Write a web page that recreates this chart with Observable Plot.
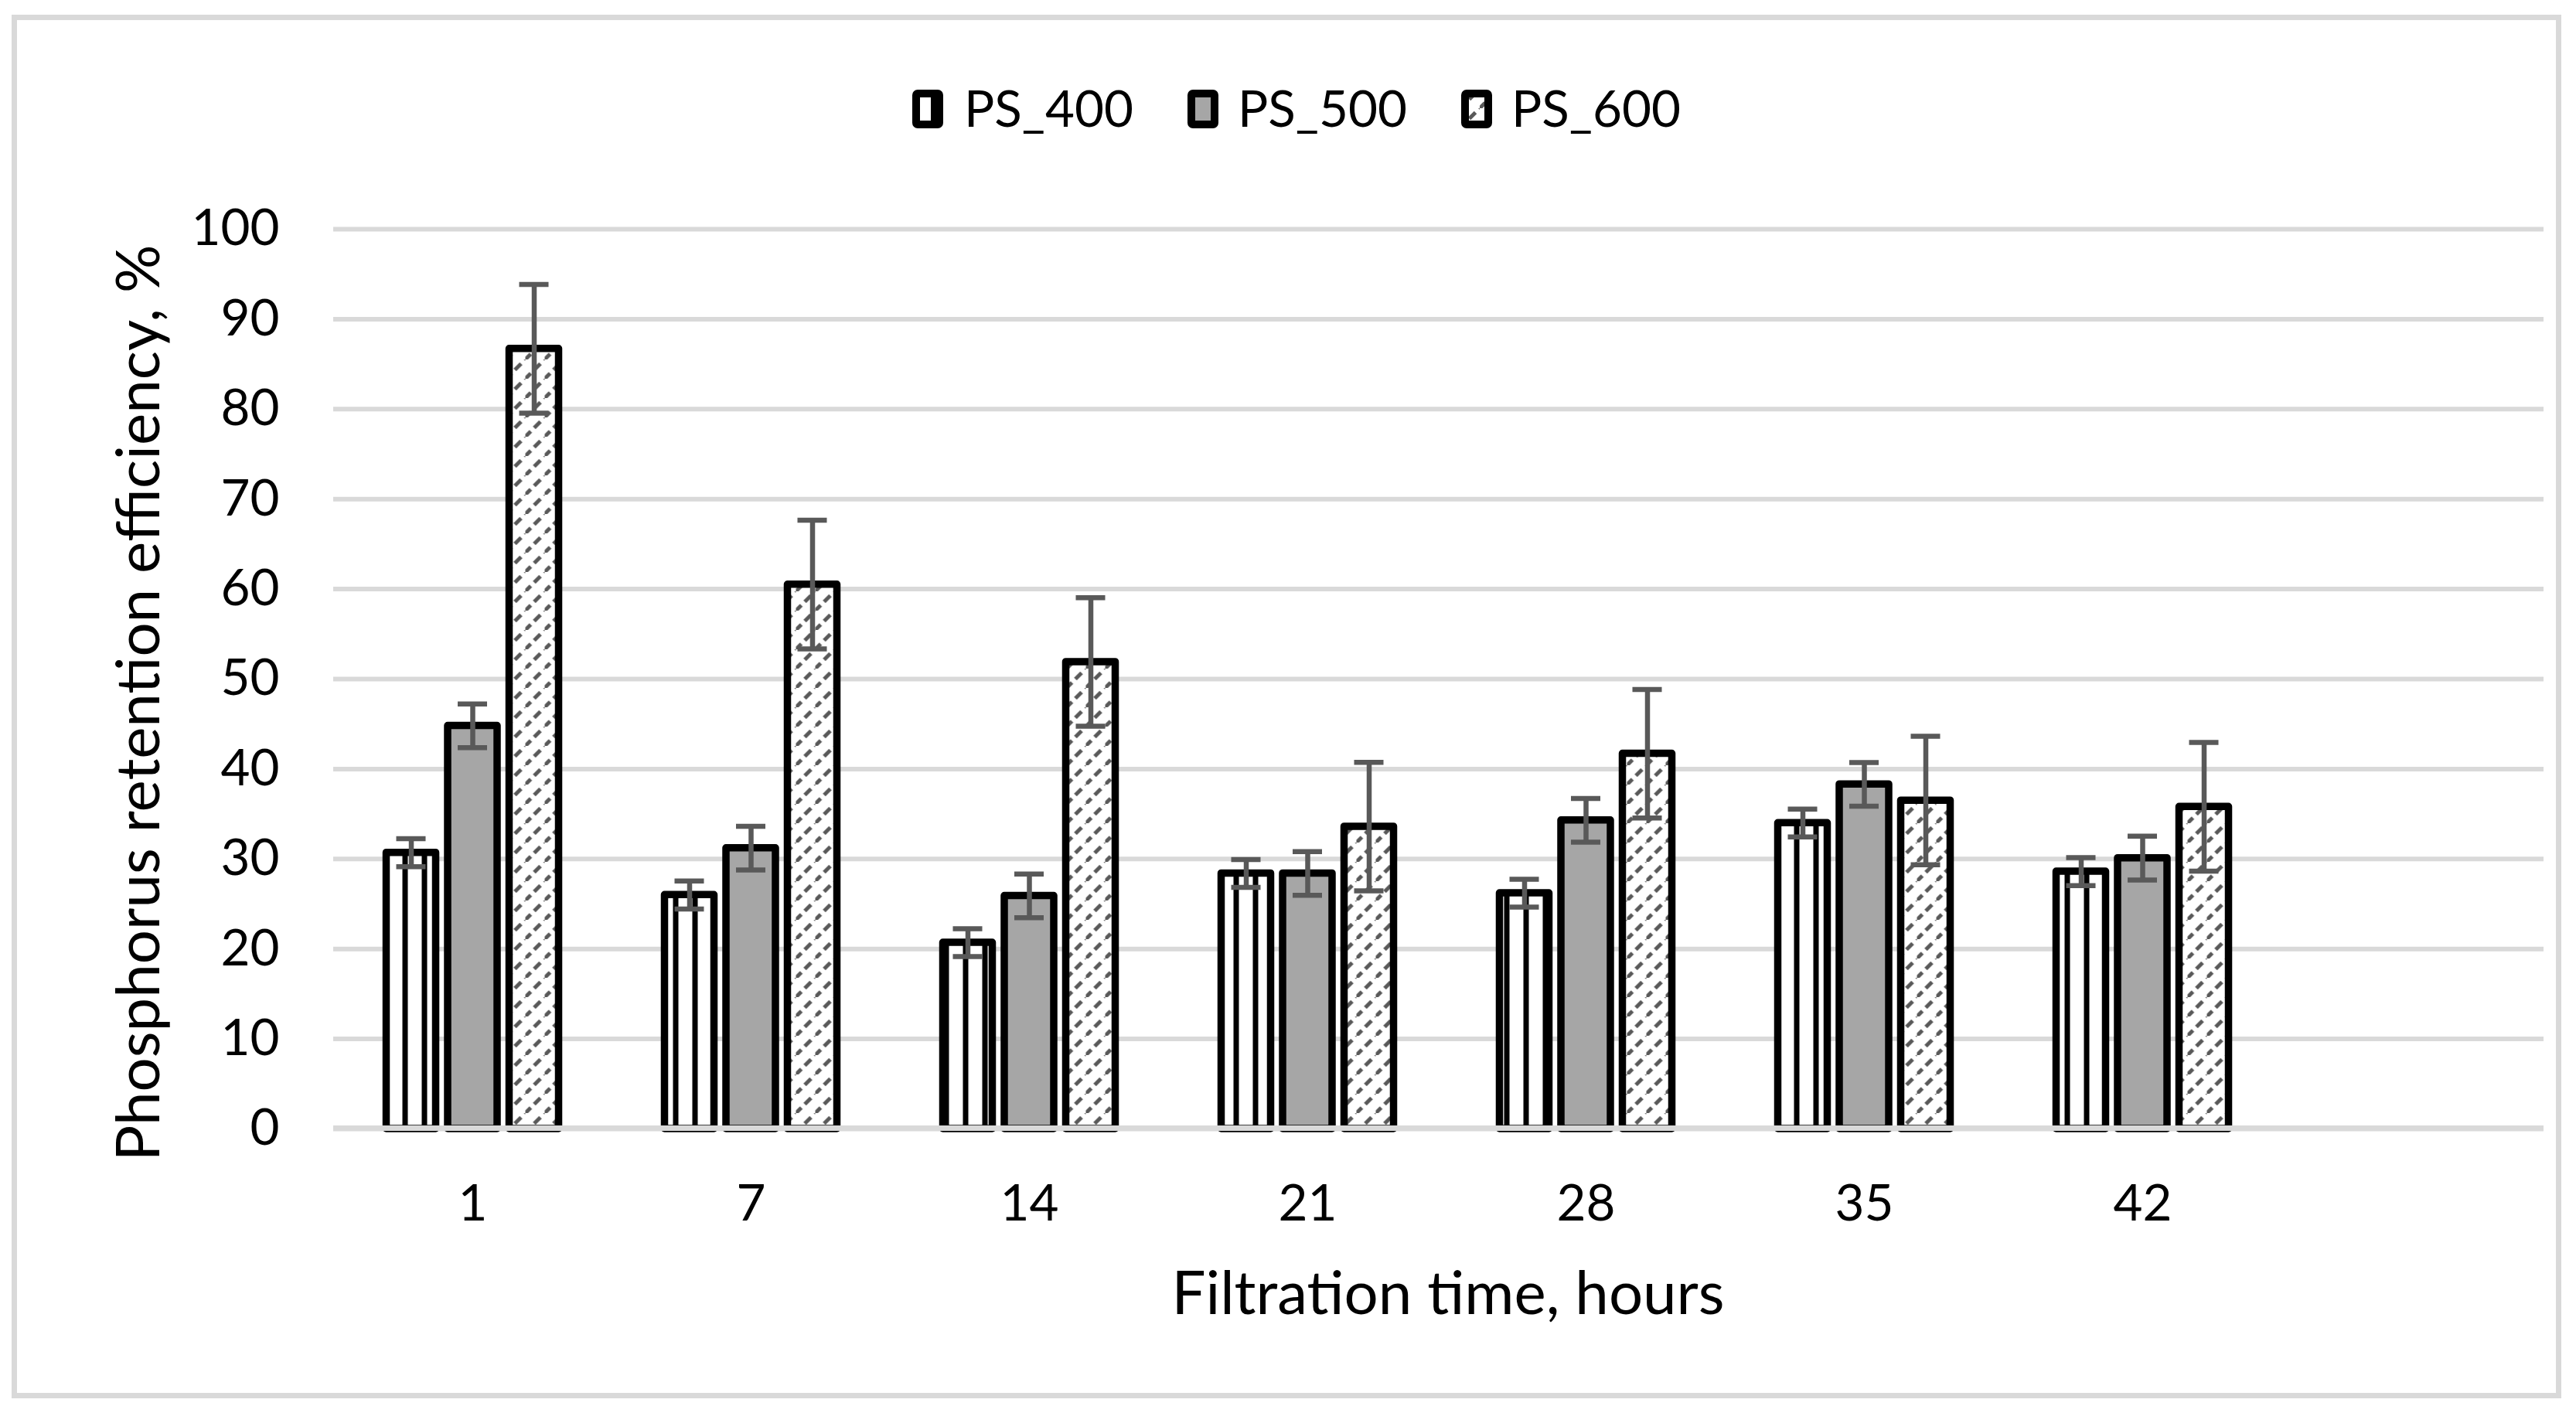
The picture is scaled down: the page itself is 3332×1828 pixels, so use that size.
<!DOCTYPE html>
<html>
<head>
<meta charset="utf-8">
<script src="https://cdn.jsdelivr.net/npm/d3@7"></script>
<script src="https://cdn.jsdelivr.net/npm/@observablehq/plot@0.6"></script>
<style>
  html, body { margin: 0; padding: 0; background: white; }
  body { width: 3332px; height: 1828px; position: relative; overflow: hidden; font-family: Lato, "Open Sans", sans-serif; }
  #legend { position: absolute; left: 0; top: 0; width: 3332px; height: 240px; }
  .lg-key { position: absolute; top: 115px; }
  .lg-text { position: absolute; top: 106px; font-size: 65.5px; line-height: 65.5px; color: black; white-space: nowrap; }
  #chart { position: absolute; left: 0; top: 240px; }
  #frame { position: absolute; left: 15px; top: 19px; width: 3298px; height: 1790px; box-sizing: border-box; border: 7px solid #d9d9d9; pointer-events: none; }
</style>
</head>
<body>
<svg width="0" height="0" style="position:absolute">
  <defs>
    <pattern id="p400" patternUnits="userSpaceOnUse" width="25" height="25">
      <rect width="25" height="25" fill="white"/>
      <rect x="0" y="0" width="7" height="25" fill="black"/>
    </pattern>
    <pattern id="p600" patternUnits="userSpaceOnUse" width="25" height="25">
      <rect width="25" height="25" fill="white"/>
      <g stroke="#595959" stroke-width="5" stroke-linecap="butt">
        <line x1="-1" y1="26" x2="7" y2="18"/>
        <line x1="11.5" y1="13.5" x2="19.5" y2="5.5"/>
        <line x1="24" y1="1" x2="26" y2="-1"/>
      </g>
    </pattern>
  </defs>
</svg>
<div id="legend"></div>
<div id="chart"></div>
<div id="frame"></div>
<script>
// ---- data ----
const hours = ["1", "7", "14", "21", "28", "35", "42"];
const seriesNames = ["PS_400", "PS_500", "PS_600"];
const ps400 = [30.7, 26.0, 20.7, 28.4, 26.2, 34.0, 28.6];
const ps500 = [44.8, 31.2, 25.9, 28.4, 34.3, 38.3, 30.1];
const ps600 = [86.7, 60.5, 51.9, 33.6, 41.7, 36.5, 35.8];
const err400 = [1.55, 1.55, 1.55, 1.55, 1.55, 1.55, 1.55];
const err500 = [2.43, 2.43, 2.43, 2.43, 2.43, 2.43, 2.43];
const err600 = [7.15, 7.15, 7.15, 7.15, 7.15, 7.15, 7.15];
const yTicks = [0, 10, 20, 30, 40, 50, 60, 70, 80, 90, 100];
const xTitle = "Filtration time, hours";
const yTitle = "Phosphorus retention efficiency, %";

// ---- styling ----
const fills = ["url(#p400)", "#a6a6a6", "url(#p600)"];
const offsets = [-79.5, 0, 79.5];
const errColor = "#595959";

const values = [ps400, ps500, ps600];
const errs = [err400, err500, err600];
const tables = values.map((vals, s) =>
  hours.map((h, i) => ({hour: h, series: seriesNames[s], value: vals[i], err: errs[s][i]}))
);

const marks = [
  Plot.gridY(yTicks, {stroke: "#d9d9d9", strokeOpacity: 1, strokeWidth: 6})
];
tables.forEach((t, s) => {
  marks.push(Plot.barY(t, {
    x: "hour", y: "value", fill: fills[s], stroke: "black", strokeWidth: 9.5,
    strokeLinejoin: "round", insetLeft: 148, insetRight: 148, dx: offsets[s]
  }));
});
tables.forEach((t, s) => {
  marks.push(Plot.ruleX(t, {
    x: "hour", y1: d => d.value - d.err, y2: d => d.value + d.err,
    stroke: errColor, strokeWidth: 6.5, dx: offsets[s]
  }));
  marks.push(Plot.tickY(t, {
    x: "hour", y: d => d.value + d.err, stroke: errColor, strokeWidth: 6.5,
    insetLeft: 161, insetRight: 161, dx: offsets[s]
  }));
  marks.push(Plot.tickY(t, {
    x: "hour", y: d => d.value - d.err, stroke: errColor, strokeWidth: 6.5,
    insetLeft: 161, insetRight: 161, dx: offsets[s]
  }));
});
marks.push(Plot.ruleY([0], {stroke: "#d9d9d9", strokeWidth: 7, dy: -1}));
marks.push(Plot.axisY(yTicks, {tickSize: 0, tickPadding: 70, label: null, fontSize: 65.5}));
marks.push(Plot.axisX({tickSize: 0, tickPadding: 72, label: null, fontSize: 65.5}));
marks.push(Plot.text([xTitle], {frameAnchor: "bottom", dx: 12, dy: 215, fontSize: 78, lineAnchor: "middle", textAnchor: "middle", fill: "black"}));
marks.push(Plot.text([yTitle], {frameAnchor: "left", rotate: -90, dx: -250, dy: 31, fontSize: 78, lineAnchor: "middle", textAnchor: "middle", fill: "black"}));

const chart = Plot.plot({
  width: 3332,
  height: 1588,
  marginLeft: 431,
  marginRight: 42,
  marginTop: 56,
  marginBottom: 368,
  style: {fontFamily: "Lato, 'Open Sans', sans-serif", fontSize: "65.5px", color: "black", background: "white", maxWidth: "none"},
  x: {type: "band", domain: hours, range: [431, 2951], padding: 0},
  y: {domain: [0, 100]},
  marks
});
document.getElementById("chart").appendChild(chart);

// ---- legend ----
const legend = document.getElementById("legend");
const keyX = [1179, 1535, 1889];
const textX = [1247, 1601, 1955];
seriesNames.forEach((name, s) => {
  const key = document.createElementNS("http://www.w3.org/2000/svg", "svg");
  key.setAttribute("width", "42");
  key.setAttribute("height", "52");
  key.setAttribute("class", "lg-key");
  key.style.left = keyX[s] + "px";
  const r = document.createElementNS("http://www.w3.org/2000/svg", "rect");
  r.setAttribute("x", "6"); r.setAttribute("y", "6");
  r.setAttribute("width", "30"); r.setAttribute("height", "40");
  r.setAttribute("rx", "2");
  r.setAttribute("fill", fills[s]);
  r.setAttribute("stroke", "black");
  r.setAttribute("stroke-width", "10");
  key.appendChild(r);
  legend.appendChild(key);
  const t = document.createElement("div");
  t.className = "lg-text";
  t.style.left = textX[s] + "px";
  t.textContent = name;
  legend.appendChild(t);
});
</script>
</body>
</html>
